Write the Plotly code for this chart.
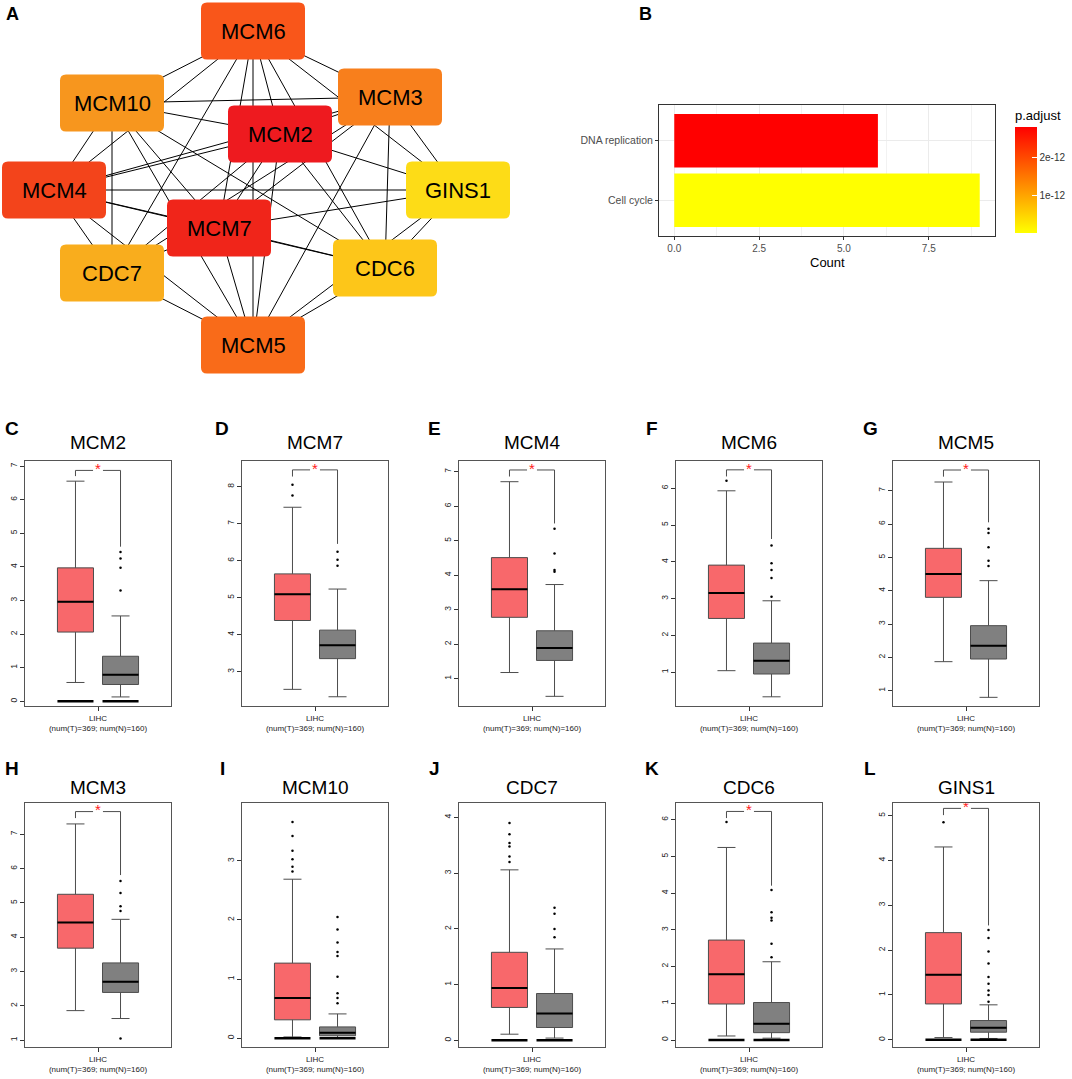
import itertools
import plotly.graph_objects as go

W, H = 1072, 1079
FONT = "Liberation Sans, Arial, Helvetica, sans-serif"

# ---------------- Panel A: PPI network ----------------
net_genes = ["MCM6", "MCM10", "MCM3", "MCM2", "MCM4", "GINS1", "MCM7", "CDC7", "CDC6", "MCM5"]
net_x = [253, 112, 390, 280, 54, 458, 219, 112, 385, 253]
net_y = [31, 103, 97, 134, 190, 190, 228, 273, 268, 345]
net_colors = ["#F9561A", "#F7961E", "#F87F1C", "#EE1A1F", "#F3441B",
              "#FDDC17", "#F0251A", "#F9AD1D", "#FDC619", "#F96B19"]
missing_edges = [("CDC7", "CDC6"), ("CDC7", "GINS1"), ("MCM10", "GINS1")]

# ---------------- Panel B: KEGG enrichment ----------------
terms = ["DNA replication", "Cell cycle"]
term_counts = [6, 9]
term_padj = [2.79e-12, 1e-15]

# ---------------- Panels C-L: GEPIA box plots ----------------
box_genes = ["MCM2", "MCM7", "MCM4", "MCM6", "MCM5", "MCM3", "MCM10", "CDC7", "CDC6", "GINS1"]
box_letters = ["C", "D", "E", "F", "G", "H", "I", "J", "K", "L"]
T_q1 = [2.06, 4.38, 2.78, 2.46, 3.80, 3.68, 0.31, 0.59, 0.98, 0.80]
T_med = [2.96, 5.09, 3.59, 3.15, 4.50, 4.43, 0.68, 0.94, 1.79, 1.45]
T_q3 = [3.97, 5.64, 4.51, 3.91, 5.27, 5.25, 1.27, 1.58, 2.72, 2.39]
T_lo = [0.56, 2.52, 1.18, 1.04, 1.87, 1.86, 0.02, 0.11, 0.11, 0.05]
T_hi = [6.55, 7.44, 6.71, 5.93, 7.26, 7.30, 2.69, 3.06, 5.24, 4.30]
N_q1 = [0.50, 3.35, 1.53, 0.95, 1.95, 2.39, 0.04, 0.23, 0.20, 0.17]
N_med = [0.79, 3.71, 1.89, 1.31, 2.35, 2.70, 0.09, 0.48, 0.44, 0.27]
N_q3 = [1.34, 4.12, 2.39, 1.79, 2.95, 3.25, 0.19, 0.84, 1.02, 0.43]
N_lo = [0.13, 2.32, 0.49, 0.33, 0.80, 1.63, 0.00, 0.04, 0.05, 0.03]
N_hi = [2.54, 5.23, 3.73, 2.94, 4.30, 4.52, 0.41, 1.64, 2.13, 0.78]
T_out = [[], [7.76, 8.05], [], [6.20], [], [],
         [2.82, 2.90, 3.03, 3.17, 3.42, 3.66],
         [3.20, 3.30, 3.48, 3.54, 3.70, 3.90], [5.93], [4.85]]
N_out = [[3.30, 3.97, 4.25, 4.44], [5.86, 6.02, 6.24], [4.10, 4.15, 4.63, 5.35],
         [3.05, 3.56, 3.78, 3.96, 4.44], [4.74, 4.90, 5.30, 5.73, 5.86],
         [4.76, 4.90, 5.29, 5.64, 1.05],
         [0.59, 0.68, 0.76, 1.04, 1.39, 1.46, 1.62, 1.84, 2.05],
         [1.85, 2.00, 2.27, 2.38], [2.25, 2.62, 3.25, 3.33, 3.48, 4.08],
         [0.85, 1.00, 1.10, 1.25, 1.40, 1.70, 1.97, 2.27, 2.45]]
significant = [True, True, True, True, True, True, False, False, True, True]
br_top = [6.87, 8.45, 7.05, 6.50, 7.62, 7.66, None, None, 6.22, 5.16]
br_left = [6.70, 8.27, 6.86, 6.32, 7.42, 7.47, None, None, 6.04, 5.01]
br_right = [4.60, 6.45, 5.50, 4.62, 6.05, 5.81, None, None, 4.20, 2.55]
has_zero_bar = [True, False, False, False, False, False, True, True, True, True]
y_ranges = [(-0.14, 7.15), (2.07, 8.69), (0.21, 7.31), (0.08, 6.74), (0.54, 7.89),
            (0.80, 7.91), (-0.15, 3.98), (-0.12, 4.26), (-0.19, 6.45), (-0.16, 5.28)]
x_label = "LIHC<br>(num(T)=369; num(N)=160)"


def fx(p):
    return p / W


def fy(p):
    return 1 - p / H


fig = go.Figure()
layout = dict(width=W, height=H, margin=dict(l=0, r=0, t=0, b=0, autoexpand=False),
              paper_bgcolor="white", plot_bgcolor="white", showlegend=False,
              font=dict(family=FONT, color="black"))
shapes = []
annotations = []


def note(px, py, text, size, anchor="center", ref="paper", color="black"):
    if ref == "paper":
        x, y, xr, yr = fx(px), fy(py), "paper", "paper"
    else:
        x, y, xr, yr = px, py, "x", "y"
    annotations.append(dict(x=x, y=y, xref=xr, yref=yr, text=text, showarrow=False,
                            xanchor=anchor, yanchor="middle",
                            font=dict(size=size, color=color, family=FONT)))


# ---- Panel A ----
ex, ey = [], []
for a, b in itertools.combinations(net_genes, 2):
    if (a, b) in missing_edges or (b, a) in missing_edges:
        continue
    ia, ib = net_genes.index(a), net_genes.index(b)
    ex += [net_x[ia], net_x[ib], None]
    ey += [net_y[ia], net_y[ib], None]
fig.add_trace(go.Scatter(x=ex, y=ey, mode="lines", line=dict(color="black", width=1),
                         hoverinfo="skip", xaxis="x", yaxis="y"))


def rrect(cx, cy, w, h, r):
    x0, x1, y0, y1 = cx - w / 2, cx + w / 2, cy - h / 2, cy + h / 2
    return (f"M {x0+r},{y0} L {x1-r},{y0} Q {x1},{y0} {x1},{y0+r} "
            f"L {x1},{y1-r} Q {x1},{y1} {x1-r},{y1} L {x0+r},{y1} "
            f"Q {x0},{y1} {x0},{y1-r} L {x0},{y0+r} Q {x0},{y0} {x0+r},{y0} Z")


for g, cx, cy, col in zip(net_genes, net_x, net_y, net_colors):
    shapes.append(dict(type="path", path=rrect(cx, cy, 104, 57, 6), xref="x", yref="y",
                       fillcolor=col, line=dict(width=0), layer="above"))
    note(cx, cy, g, 22, ref="data")

layout["xaxis"] = dict(domain=[0, fx(530)], range=[0, 530], visible=False, fixedrange=True)
layout["yaxis"] = dict(domain=[fy(380), fy(0)], range=[380, 0], visible=False, fixedrange=True)

# ---- Panel B ----
fig.add_trace(go.Bar(
    x=term_counts, y=terms, orientation="h", width=0.9,
    marker=dict(color=term_padj, colorscale=[[0, "#FFFF00"], [1, "#FF0000"]],
                cmin=min(term_padj), cmax=max(term_padj), line=dict(width=0),
                colorbar=dict(x=fx(1015), xanchor="left", y=fy(180), yanchor="middle",
                              len=106 / H, lenmode="fraction", thickness=22,
                              thicknessmode="pixels", outlinewidth=0, ticks="inside",
                              tickcolor="white", ticklen=5, tickvals=[1e-12, 2e-12],
                              ticktext=["1e-12", "2e-12"], ypad=0, xpad=0,
                              tickfont=dict(size=10, color="#333333", family=FONT))),
    xaxis="x2", yaxis="y2", hoverinfo="skip"))
layout["xaxis2"] = dict(domain=[fx(659), fx(995)], anchor="y2", range=[-0.45, 9.45],
                        tickvals=[0, 2.5, 5, 7.5], ticktext=["0.0", "2.5", "5.0", "7.5"],
                        ticks="outside", ticklen=3, tickcolor="#333333",
                        tickfont=dict(size=10, color="#4D4D4D", family=FONT),
                        showgrid=True, gridcolor="#EBEBEB", gridwidth=1,
                        minor=dict(tickvals=[1.25, 3.75, 6.25, 8.75], showgrid=True,
                                   gridcolor="#F2F2F2", gridwidth=0.5),
                        showline=True, mirror=True, linecolor="#333333", linewidth=1,
                        zeroline=False, fixedrange=True)
layout["yaxis2"] = dict(domain=[fy(236), fy(105)], anchor="x2", type="category",
                        categoryorder="array", categoryarray=["Cell cycle", "DNA replication"],
                        range=[-0.6, 1.6], ticks="outside", ticklen=3, tickcolor="#333333",
                        tickfont=dict(size=10.5, color="#4D4D4D", family=FONT),
                        showgrid=True, gridcolor="#EBEBEB",
                        showline=True, mirror=True, linecolor="#333333", linewidth=1,
                        fixedrange=True)
note(827, 262, "Count", 13)
note(1013, 115, "p.adjust", 13, anchor="left")

# ---- Panels C-L ----
frame_left = [25, 242, 459, 676, 893]
row_top = [461, 803]
row_bot = [706, 1047]
letter_x = [12, 222, 434, 652, 870]
letter_y = [428, 768]
title_y = [443, 787]
FW = 146

for i in range(10):
    row, col = divmod(i, 5)
    k = i + 3
    xa, ya = f"x{k}", f"y{k}"
    fig.add_trace(go.Box(x=[0], q1=[T_q1[i]], median=[T_med[i]], q3=[T_q3[i]],
                         lowerfence=[T_lo[i]], upperfence=[T_hi[i]], width=0.8,
                         fillcolor="#F8686B", line=dict(color="#4D4D4D", width=1),
                         whiskerwidth=0.5, boxpoints=False, xaxis=xa, yaxis=ya,
                         hoverinfo="skip"))
    fig.add_trace(go.Box(x=[1], q1=[N_q1[i]], median=[N_med[i]], q3=[N_q3[i]],
                         lowerfence=[N_lo[i]], upperfence=[N_hi[i]], width=0.8,
                         fillcolor="#808080", line=dict(color="#4D4D4D", width=1),
                         whiskerwidth=0.5, boxpoints=False, xaxis=xa, yaxis=ya,
                         hoverinfo="skip"))
    fig.add_trace(go.Scatter(x=[-0.4, 0.4, None, 0.6, 1.4],
                             y=[T_med[i], T_med[i], None, N_med[i], N_med[i]],
                             mode="lines", line=dict(color="black", width=2),
                             xaxis=xa, yaxis=ya, hoverinfo="skip"))
    px = [0] * len(T_out[i]) + [1] * len(N_out[i])
    py = T_out[i] + N_out[i]
    if py:
        fig.add_trace(go.Scatter(x=px, y=py, mode="markers",
                                 marker=dict(color="black", size=2.5),
                                 xaxis=xa, yaxis=ya, hoverinfo="skip"))
    if has_zero_bar[i]:
        fig.add_trace(go.Scatter(x=[-0.4, 0.4, None, 0.6, 1.4], y=[0, 0, None, 0, 0],
                                 mode="lines", line=dict(color="black", width=2.5),
                                 xaxis=xa, yaxis=ya, hoverinfo="skip"))
    if significant[i]:
        t = br_top[i]
        fig.add_trace(go.Scatter(x=[0, 0, 0.39, None, 0.61, 1, 1],
                                 y=[br_left[i], t, t, None, t, t, br_right[i]],
                                 mode="lines", line=dict(color="#4D4D4D", width=1),
                                 xaxis=xa, yaxis=ya, hoverinfo="skip"))
        fig.add_trace(go.Scatter(x=[0.5], y=[t], mode="text", text=["*"],
                                 textposition="middle center",
                                 textfont=dict(color="#FF2020", size=15, family=FONT),
                                 xaxis=xa, yaxis=ya, hoverinfo="skip"))
    l = frame_left[col]
    layout[f"xaxis{k}"] = dict(domain=[fx(l), fx(l + FW)], anchor=ya, range=[-1.12, 2.12],
                               tickvals=[0.5], ticktext=[x_label], ticks="outside", ticklen=4,
                               tickcolor="#333333",
                               tickfont=dict(size=8, color="#222222", family=FONT),
                               showline=True, mirror=True, linecolor="#555555", linewidth=1.2,
                               showgrid=False, zeroline=False, fixedrange=True)
    layout[f"yaxis{k}"] = dict(domain=[fy(row_bot[row]), fy(row_top[row])], anchor=xa,
                               range=list(y_ranges[i]), dtick=1, tick0=0, ticks="outside",
                               ticklen=4, tickcolor="#333333", tickangle=-90,
                               tickfont=dict(size=8.5, color="#222222", family=FONT),
                               showline=True, mirror=True, linecolor="#555555", linewidth=1.2,
                               showgrid=False, zeroline=False, fixedrange=True)
    note(l + FW / 2, title_y[row], box_genes[i], 19)
    note(letter_x[col], letter_y[row], f"<b>{box_letters[i]}</b>", 19)

note(12, 14, "<b>A</b>", 18)
note(645, 14, "<b>B</b>", 18)

layout["shapes"] = shapes
layout["annotations"] = annotations
fig.update_layout(**layout)
fig.write_html("out.html", config={"displayModeBar": False},
               post_script="document.body.style.margin='0';document.body.style.padding='0';")
